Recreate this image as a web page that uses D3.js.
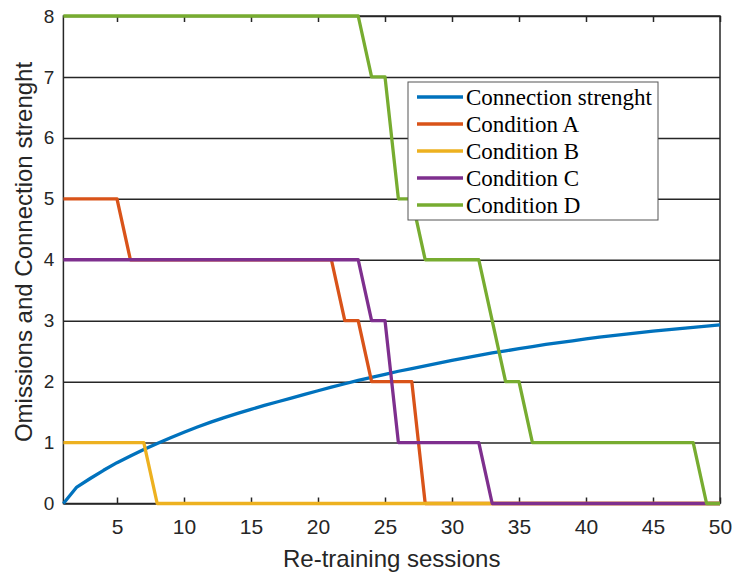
<!DOCTYPE html>
<html>
<head>
<meta charset="utf-8">
<script src="https://cdn.jsdelivr.net/npm/d3@7"></script>
<style>
  body { margin: 0; background: #fff; }
  svg { display: block; }
  .tick text { fill: #262626; }
</style>
</head>
<body>
<svg id="canvas"></svg>
<script>
const sessions = d3.range(1, 51)

const strength = [0, 0.27, 0.41, 0.545, 0.67, 0.78, 0.885, 0.985, 1.08, 1.17,
  1.255, 1.335, 1.41, 1.48, 1.545, 1.61, 1.67, 1.73, 1.79, 1.85,
  1.91, 1.965, 2.02, 2.07, 2.12, 2.17, 2.215, 2.26, 2.305, 2.35,
  2.39, 2.43, 2.47, 2.505, 2.54, 2.575, 2.61, 2.64, 2.67, 2.70,
  2.73, 2.755, 2.78, 2.805, 2.83, 2.85, 2.87, 2.89, 2.91, 2.93]

const condA = [5, 5, 5, 5, 5, 4, 4, 4, 4, 4, 4, 4, 4, 4, 4, 4, 4, 4, 4, 4,
  4, 3, 3, 2, 2, 2, 2, 0, 0, 0, 0, 0, 0, 0, 0, 0, 0, 0, 0, 0,
  0, 0, 0, 0, 0, 0, 0, 0, 0, 0]
const condB = [1, 1, 1, 1, 1, 1, 1, 0, 0, 0, 0, 0, 0, 0, 0, 0, 0, 0, 0, 0,
  0, 0, 0, 0, 0, 0, 0, 0, 0, 0, 0, 0, 0, 0, 0, 0, 0, 0, 0, 0,
  0, 0, 0, 0, 0, 0, 0, 0, 0, 0]
const condC = [4, 4, 4, 4, 4, 4, 4, 4, 4, 4, 4, 4, 4, 4, 4, 4, 4, 4, 4, 4,
  4, 4, 4, 3, 3, 1, 1, 1, 1, 1, 1, 1, 0, 0, 0, 0, 0, 0, 0, 0,
  0, 0, 0, 0, 0, 0, 0, 0, 0, 0]
const condD = [8, 8, 8, 8, 8, 8, 8, 8, 8, 8, 8, 8, 8, 8, 8, 8, 8, 8, 8, 8,
  8, 8, 8, 7, 7, 5, 5, 4, 4, 4, 4, 4, 3, 2, 2, 1, 1, 1, 1, 1,
  1, 1, 1, 1, 1, 1, 1, 1, 0, 0]

const seriesNames = ['Connection strenght', 'Condition A', 'Condition B', 'Condition C', 'Condition D']
const seriesValues = [strength, condA, condB, condC, condD]
const colors = ['#0072BD', '#D95319', '#EDB120', '#7E2F8E', '#77AC30']

const xTicks = [5, 10, 15, 20, 25, 30, 35, 40, 45, 50]
const yTicks = [0, 1, 2, 3, 4, 5, 6, 7, 8]

const width = 734
const height = 575
const plotLeft = 63.4, plotRight = 720, plotTop = 16, plotBottom = 503.5
const axisColor = '#262626'

let canvas = d3.select('#canvas')
    .attr('width', width)
    .attr('height', height)

let xScale = d3.scaleLinear().domain([1, 50]).range([plotLeft, plotRight])
let yScale = d3.scaleLinear().domain([0, 8]).range([plotBottom, plotTop])

// horizontal grid
canvas.append('g')
    .attr('transform', `translate(${plotLeft},0)`)
    .call(d3.axisLeft(yScale).tickValues(yTicks).tickSize(-(plotRight - plotLeft)).tickFormat(''))
    .call(g => g.select('.domain').remove())
    .call(g => g.selectAll('line').attr('stroke', axisColor).attr('stroke-width', 1.5))

// box
canvas.append('rect')
    .attr('x', plotLeft)
    .attr('y', plotTop)
    .attr('width', plotRight - plotLeft)
    .attr('height', plotBottom - plotTop)
    .attr('fill', 'none')
    .attr('stroke', axisColor)
    .attr('stroke-width', 1.5)

// x axis bottom with inward ticks
let xAxis = canvas.append('g')
    .attr('transform', `translate(0,${plotBottom})`)
    .call(d3.axisBottom(xScale).tickValues(xTicks).tickSize(-6))
xAxis.select('.domain').remove()
xAxis.selectAll('line').attr('stroke', axisColor).attr('stroke-width', 1.5)
xAxis.selectAll('text')
    .attr('font-family', 'Liberation Sans, Arial, sans-serif')
    .attr('font-size', 21)
    .attr('dy', '0.71em')
    .attr('y', 16)

// top ticks
canvas.append('g')
    .attr('transform', `translate(0,${plotTop})`)
    .call(d3.axisTop(xScale).tickValues(xTicks).tickSize(-6).tickFormat(''))
    .call(g => g.select('.domain').remove())
    .call(g => g.selectAll('line').attr('stroke', axisColor).attr('stroke-width', 1.5))

// y labels
let yAxis = canvas.append('g')
    .attr('transform', `translate(${plotLeft},0)`)
    .call(d3.axisLeft(yScale).tickValues(yTicks).tickSize(0).tickPadding(9))
yAxis.select('.domain').remove()
yAxis.selectAll('text')
    .attr('font-family', 'Liberation Sans, Arial, sans-serif')
    .attr('font-size', 19)

// titles
canvas.append('text')
    .attr('x', (plotLeft + plotRight) / 2)
    .attr('y', 567)
    .attr('text-anchor', 'middle')
    .attr('font-family', 'Liberation Sans, Arial, sans-serif')
    .attr('font-size', 24)
    .attr('fill', axisColor)
    .text('Re-training sessions')

canvas.append('text')
    .attr('transform', 'translate(32,252) rotate(-90)')
    .attr('text-anchor', 'middle')
    .attr('font-family', 'Liberation Sans, Arial, sans-serif')
    .attr('font-size', 24)
    .attr('fill', axisColor)
    .text('Omissions and Connection strenght')

// lines
let line = d3.line()
    .x((d, i) => xScale(sessions[i]))
    .y(d => yScale(d))

canvas.selectAll('path.series')
    .data(seriesValues)
    .enter()
    .append('path')
    .attr('class', 'series')
    .attr('d', d => line(d))
    .attr('fill', 'none')
    .attr('stroke', (d, i) => colors[i])
    .attr('stroke-width', 3.3)
    .attr('stroke-linejoin', 'round')

// legend
let legend = canvas.append('g')
legend.append('rect')
    .attr('x', 408)
    .attr('y', 82)
    .attr('width', 250)
    .attr('height', 138)
    .attr('fill', '#fff')
    .attr('stroke', '#555')
    .attr('stroke-width', 1)

let rows = legend.selectAll('g.row')
    .data(seriesNames)
    .enter()
    .append('g')
    .attr('class', 'row')
    .attr('transform', (d, i) => `translate(0,${97 + i * 27})`)

rows.append('line')
    .attr('x1', 417)
    .attr('x2', 463)
    .attr('stroke', (d, i) => colors[i])
    .attr('stroke-width', 3.3)

rows.append('text')
    .attr('x', 466)
    .attr('y', 8)
    .attr('font-family', 'Liberation Serif, Times New Roman, serif')
    .attr('font-size', 23)
    .attr('fill', '#000')
    .text(d => d)
</script>
</body>
</html>
